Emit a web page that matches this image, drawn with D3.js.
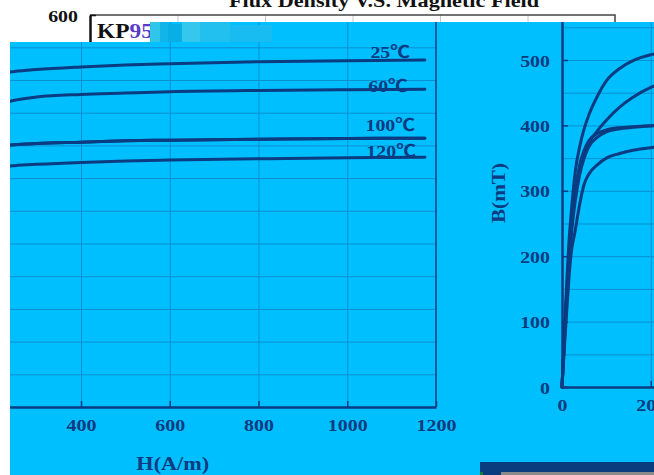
<!DOCTYPE html>
<html>
<head>
<meta charset="utf-8">
<script src="https://cdn.jsdelivr.net/npm/d3@7"></script>
<style>
  html, body { margin: 0; padding: 0; background: #fff; }
  svg { display: block; }
</style>
</head>
<body>
<svg id="chart" width="654" height="475"></svg>
<script>
// B-H curves, H in A/m, B in mT
var hValues = [0, 5, 10, 15, 20, 30, 40, 50, 60, 80, 100, 130, 160, 200, 250, 300, 400, 500, 600, 800, 1000, 1175];
var b25  = [0, 80, 150, 215, 260, 330, 368, 395, 415, 445, 468, 487, 499, 508, 513, 516, 520, 523, 525, 528, 529.5, 530.5];
var b60  = [0, 70, 135, 195, 240, 300, 330, 355, 372, 392, 408, 428, 443, 458, 469, 474, 478, 480, 482, 484, 485, 486];
var bMid = [0, 70, 135, 190, 235, 300, 340, 362, 376, 388, 393, 396.5, 398, 399.5, 401, 403, 405, 407, 408, 409.5, 410.5, 411];
var b100 = [0, 65, 125, 180, 225, 285, 325, 350, 367, 382, 390, 395, 397, 399, 401, 403, 405, 407, 408, 409.5, 410.5, 411];
var b120 = [0, 55, 110, 160, 200, 240, 280, 310, 325, 340, 350, 357, 362, 366, 369, 371, 374, 376, 377.5, 379.5, 381, 382];
var seriesList = [b25, b60, bMid, b100, b120];

var curveLabels = ["25℃", "60℃", "100℃", "120℃"];
var labelH = [1097, 1092, 1097, 1099];
var labelB = [534, 482, 422, 382];

var xTicks = [0, 200, 400, 600, 800, 1000, 1200];
var yTicks = [0, 100, 200, 300, 400, 500, 600];
var gridB = [50, 100, 150, 200, 250, 300, 350, 400, 450, 500, 550];

var titleText = "Flux Density V.S. Magnetic Field";
var xTitle = "H(A/m)";
var yTitle = "B(mT)";

var BLUE = "#00bfff";
var SERIF = "'Liberation Serif', 'Times New Roman', 'Noto Sans CJK SC', serif";
var STRETCH = 1.17;

var svg = d3.select("#chart");
var defs = svg.append("defs");

function addClip(id, d) {
  defs.append("clipPath").attr("id", id).append("path").attr("d", d);
}
addClip("clip-white", "M0,0H654V22H150V42H10V475H0Z");
addClip("clip-left", "M10,42H150V22H472V475H10Z");
addClip("clip-right", "M472,22H654V475H472Z");

// which part of the picture each copy of the chart shows
function inWhite(x, y) { return y < 22 || (x < 150 && y < 42) || x < 10; }
function inLeft(x, y) { return x >= 10 && x < 472 && (y >= 42 || (x >= 150 && y >= 22)); }
function inRight(x, y) { return x >= 472 && y >= 22; }

function stretchText(sel, x, y, extra) {
  sel.attr("x", null).attr("y", null)
    .attr("transform", "translate(" + x + "," + y + ")" + (extra || "") + " scale(" + STRETCH + ",1)");
}

// place a text, or drop it when its copy does not show that spot
function placeText(sel, o, x, y) {
  if (!o.visible(x, y)) { sel.remove(); return; }
  stretchText(sel, x, y);
}

function drawCopy(g, o) {
  var x = d3.scaleLinear().domain([0, 1200]).range([o.x0, o.x0 + 1200 * o.kx]);
  var y = d3.scaleLinear().domain([0, 600]).range([o.y0, o.y0 - 600 * 0.654]);
  var w = x(1200) - x(0), h = y(0) - y(600);

  // grid
  g.append("g")
    .attr("transform", "translate(0," + y(0) + ")")
    .call(d3.axisBottom(x).tickValues(xTicks.slice(1, -1)).tickSize(-h).tickFormat(""))
    .call(function (s) {
      s.select(".domain").remove();
      s.selectAll("line").attr("stroke", o.grid).attr("stroke-width", 1);
    });
  g.append("g")
    .attr("transform", "translate(" + x(0) + ",0)")
    .call(d3.axisLeft(y).tickValues(gridB).tickSize(-w).tickFormat(""))
    .call(function (s) {
      s.select(".domain").remove();
      s.selectAll("line").attr("stroke", o.grid).attr("stroke-width", 1);
    });

  // top and right border
  g.append("path")
    .attr("d", "M" + x(0) + "," + y(600) + "H" + x(1200) + "V" + y(0))
    .attr("fill", "none").attr("stroke", o.border).attr("stroke-width", 1.5);

  // x axis
  g.append("g")
    .attr("transform", "translate(0," + y(0) + ")")
    .call(d3.axisBottom(x).tickValues(xTicks).tickFormat(d3.format("d"))
      .tickSizeInner(-6).tickSizeOuter(0).tickPadding(12))
    .call(function (s) {
      s.attr("font-family", SERIF).attr("font-size", 17).attr("font-weight", "bold");
      s.select(".domain").attr("stroke", o.ink).attr("stroke-width", 2.5);
      s.selectAll(".tick line").attr("stroke", o.ink).attr("stroke-width", 1.5);
      s.selectAll(".tick text").attr("fill", o.ink).each(function (d) {
        var t = d3.select(this).attr("dy", null);
        if (!o.visible(x(d), y(0) + 24)) t.remove();
        else stretchText(t, 0, 24);
      });
    });

  // y axis
  g.append("g")
    .attr("transform", "translate(" + x(0) + ",0)")
    .call(d3.axisLeft(y).tickValues(yTicks).tickFormat(d3.format("d"))
      .tickSizeInner(-6).tickSizeOuter(0).tickPadding(12))
    .call(function (s) {
      s.attr("font-family", SERIF).attr("font-size", 17).attr("font-weight", "bold");
      s.select(".domain").attr("stroke", o.ink).attr("stroke-width", 2.5);
      s.selectAll(".tick line").attr("stroke", o.ink).attr("stroke-width", 1.5);
      s.selectAll(".tick text").attr("fill", o.ink).each(function (d) {
        var t = d3.select(this).attr("dy", null);
        if (!o.visible(x(0) - 12, y(d) + 6)) t.remove();
        else stretchText(t, -12, 6);
      });
    });

  // axis titles
  g.append("text")
    .attr("text-anchor", "middle").attr("font-family", SERIF).attr("font-size", 19)
    .attr("font-weight", "bold").attr("fill", o.ink)
    .text(xTitle)
    .call(placeText, o, x(600) + 3, y(0) + 63);
  var yt = g.append("text")
    .attr("text-anchor", "middle").attr("font-family", SERIF).attr("font-size", 19)
    .attr("font-weight", "bold").attr("fill", o.ink)
    .text(yTitle);
  if (o.visible(x(0) - 57, y(0) - 194)) {
    yt.attr("transform", "translate(" + (x(0) - 57) + "," + (y(0) - 194) + ") rotate(-90) scale(1.12,1)");
  } else {
    yt.remove();
  }

  // chart title and material name
  g.append("text")
    .attr("text-anchor", "middle").attr("font-family", SERIF).attr("font-size", 19)
    .attr("font-weight", "bold").attr("fill", o.ink)
    .text(titleText)
    .call(placeText, o, x(0) + 294, y(600) - 8);
  var kp = g.append("text")
    .attr("font-family", SERIF).attr("font-size", 20).attr("font-weight", "bold").attr("fill", o.ink);
  kp.append("tspan").text("KP");
  kp.append("tspan").attr("fill", o.accent).text("95");
  kp.call(placeText, o, x(0) + 7, y(600) + 23);

  // curves
  var line = d3.line()
    .x(function (d, i) { return x(hValues[i]); })
    .y(function (d) { return y(d); })
    .curve(d3.curveMonotoneX);
  g.append("g").selectAll("path")
    .data(seriesList)
    .join("path")
    .attr("d", line)
    .attr("fill", "none")
    .attr("stroke", o.ink)
    .attr("stroke-width", 3)
    .attr("stroke-linecap", "round");

  // temperature labels
  g.append("g").selectAll("text")
    .data(curveLabels)
    .join("text")
    .attr("text-anchor", "middle").attr("font-family", SERIF).attr("font-size", 17)
    .attr("font-weight", "bold").attr("fill", o.ink)
    .text(function (d) { return d; })
    .each(function (d, i) {
      placeText(d3.select(this), o, x(labelH[i]), y(labelB[i]));
    });
}

// original chart, visible only at the top
drawCopy(svg.append("g").attr("clip-path", "url(#clip-white)"), {
  x0: 90, kx: 0.4375, y0: 407.5, visible: inWhite,
  ink: "#111", border: "#444", grid: "#c4c4c4", accent: "#5a3cc6"
});

// blue overlay
svg.append("path").attr("d", "M10,42H150V22H654V475H10Z").attr("fill", BLUE);

var blueOpts = { ink: "#0b3b80", border: "#0b3b80", grid: "#0a8fd0", accent: "#0b3b80" };

drawCopy(svg.append("g").attr("clip-path", "url(#clip-left)"),
  Object.assign({ x0: -96.5, kx: 0.44375, y0: 407, visible: inLeft }, blueOpts));

drawCopy(svg.append("g").attr("clip-path", "url(#clip-right)"),
  Object.assign({ x0: 562, kx: 0.44375, y0: 387, visible: inRight }, blueOpts));

// glitch blocks next to the material name
var glitch = [
  [150, 22, 10, 20, "#2fc6ea"], [160, 22, 8, 20, "#13b5e8"], [168, 24, 14, 18, "#08aee6"],
  [182, 22, 18, 20, "#35c8ec"], [200, 22, 30, 20, "#22c0ee"], [230, 25, 42, 17, "#18bcf0"]
];
svg.append("g").selectAll("rect")
  .data(glitch)
  .join("rect")
  .attr("x", function (d) { return d[0]; })
  .attr("y", function (d) { return d[1]; })
  .attr("width", function (d) { return d[2]; })
  .attr("height", function (d) { return d[3]; })
  .attr("fill", function (d) { return d[4]; });

// bar at the bottom right
svg.append("rect").attr("x", 480).attr("y", 462).attr("width", 174).attr("height", 13).attr("fill", "#0a3d80");
svg.append("rect").attr("x", 501).attr("y", 472).attr("width", 153).attr("height", 3).attr("fill", "#8a8a8a");
svg.append("rect").attr("x", 480).attr("y", 472).attr("width", 3).attr("height", 3).attr("fill", "#1a7a3a");
</script>
</body>
</html>
